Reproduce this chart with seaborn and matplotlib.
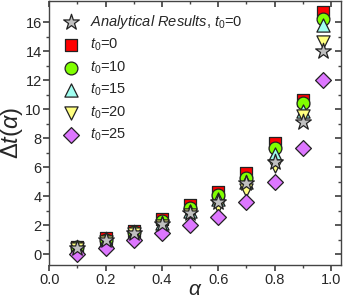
import matplotlib
matplotlib.use("Agg")
import matplotlib.pyplot as plt
import pandas as pd
import seaborn as sns

# alpha values and delta t for each t0
alpha = [0.1, 0.2, 0.3, 0.4, 0.5, 0.6, 0.7, 0.8, 0.9, 0.97]
analytical = [0.42, 0.94, 1.45, 2.09, 2.82, 3.62, 4.88, 6.38, 9.13, 14.0]
t0_0 = [0.52, 1.1, 1.6, 2.43, 3.4, 4.31, 5.58, 7.64, 10.65, 16.7]
t0_10 = [0.47, 1.0, 1.52, 2.25, 3.15, 4.05, 5.23, 7.3, 10.44, 16.25]
t0_15 = [0.43, 0.95, 1.45, 2.15, 2.95, 3.8, 4.95, 6.9, 9.9, 15.8]
t0_20 = [0.38, 0.85, 1.35, 1.95, 2.7, 3.3, 4.45, 6.1, 9.55, 14.6]
t0_25 = [0.02, 0.42, 0.98, 1.45, 2.02, 2.59, 3.62, 4.96, 7.3, 11.98]

sns.set_theme(style="ticks")
plt.rcParams["font.family"] = ["Liberation Sans", "DejaVu Sans"]
plt.rcParams["mathtext.fontset"] = "custom"
plt.rcParams["mathtext.rm"] = "Liberation Sans"
plt.rcParams["mathtext.it"] = "Liberation Sans:italic"

fig = plt.figure(figsize=(3.46, 2.99), dpi=100)
ax = fig.add_axes([0.1425, 0.114, 0.8425, 0.882])

series = [
    (t0_0, "s", "#ff0000", 75, r"$t_\mathit{0}$=0"),
    (t0_10, "o", "#80ff00", 85, r"$t_\mathit{0}$=10"),
    (t0_15, "^", "#a0fff0", 90, r"$t_\mathit{0}$=15"),
    (t0_20, "v", "#ffff80", 90, r"$t_\mathit{0}$=20"),
    (t0_25, "D", "#dd77ff", 65, r"$t_\mathit{0}$=25"),
    (analytical, "*", "#c0c0c0", 140, r"$Analytical\ Results$, $t_\mathit{0}$=0"),
]

for vals, mk, col, sz, lab in series:
    df = pd.DataFrame({"alpha": alpha, "dt": vals})
    sns.scatterplot(data=df, x="alpha", y="dt", marker=mk, color=col, s=sz,
                    edgecolor="#222222", linewidth=0.9, label=lab, ax=ax,
                    zorder=3)

handles, labels = ax.get_legend_handles_labels()
order = [5, 0, 1, 2, 3, 4]
ax.legend([handles[i] for i in order], [labels[i] for i in order],
          loc="upper left", frameon=False, fontsize=10.5, handletextpad=0.3,
          labelspacing=0.42, borderaxespad=0.3, bbox_to_anchor=(-0.01, 0.995))

ax.set_xlim(0, 1.035)
ax.set_ylim(-0.75, 17.45)
ax.set_xticks([0.0, 0.2, 0.4, 0.6, 0.8, 1.0])
ax.set_xticks([0.1, 0.3, 0.5, 0.7, 0.9], minor=True)
ax.set_yticks(range(0, 17, 2))
ax.set_yticks(range(1, 17, 2), minor=True)
ax.set_xticklabels(["0.0", "0.2", "0.4", "0.6", "0.8", "1.0"])

ax.set_xlabel(r"$\alpha$", fontsize=15, labelpad=-5)
ax.set_ylabel(r"$\Delta t(\alpha)$", fontsize=17, labelpad=0)

for sp in ax.spines.values():
    sp.set_visible(True)
    sp.set_color("#444444")
    sp.set_linewidth(1.0)
ax.tick_params(which="both", direction="out", labelsize=10.5, color="#444444",
               top=False, right=False)
ax.tick_params(which="major", length=4)
ax.tick_params(which="minor", length=2.5)
ax.tick_params(axis="x", pad=2)
ax.tick_params(axis="y", pad=1.5)

sec_y = ax.secondary_yaxis("right")
sec_y.set_yticks(range(0, 17, 2))
sec_y.set_yticks(range(1, 17, 2), minor=True)
sec_y.tick_params(which="both", direction="in", labelright=False, color="#444444")
sec_y.tick_params(which="major", length=4)
sec_y.tick_params(which="minor", length=2.5)
sec_y.spines["right"].set_visible(False)
sec_x = ax.secondary_xaxis("top")
sec_x.set_xticks([0.0, 0.2, 0.4, 0.6, 0.8, 1.0])
sec_x.set_xticks([0.1, 0.3, 0.5, 0.7, 0.9], minor=True)
sec_x.tick_params(which="both", direction="in", labeltop=False, color="#444444")
sec_x.tick_params(which="major", length=4)
sec_x.tick_params(which="minor", length=2.5)
sec_x.spines["top"].set_visible(False)

fig.savefig("out.png", dpi=100)
